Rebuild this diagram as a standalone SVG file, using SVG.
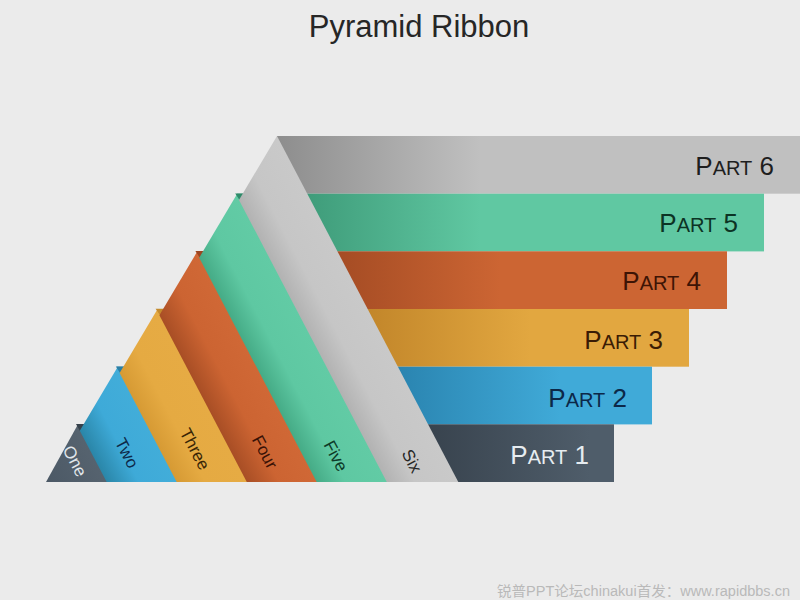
<svg xmlns="http://www.w3.org/2000/svg" width="800" height="600" viewBox="0 0 800 600">
<style>
.title{font-family:"Liberation Sans","Open Sans",sans-serif;font-size:31px;fill:#262626}
.part{font-family:"Liberation Sans","Open Sans",sans-serif;text-anchor:end}
.big{font-size:26px}
.small{font-size:20px}
.lbl{font-family:"Liberation Sans","Open Sans",sans-serif;font-size:17px;text-anchor:middle}
.wm{font-family:"Liberation Sans","Noto Sans CJK SC",sans-serif;font-size:14px;fill:#b9b9b9}
</style>
<defs>
<linearGradient id="b6" gradientUnits="userSpaceOnUse" x1="280" y1="0" x2="480" y2="0"><stop offset="0" stop-color="#8e8e8e"/><stop offset="1" stop-color="#c0c0c0"/></linearGradient>
<linearGradient id="b5" gradientUnits="userSpaceOnUse" x1="307" y1="0" x2="480" y2="0"><stop offset="0" stop-color="#3f9c7a"/><stop offset="1" stop-color="#60c8a2"/></linearGradient>
<linearGradient id="b4" gradientUnits="userSpaceOnUse" x1="337" y1="0" x2="500" y2="0"><stop offset="0" stop-color="#a54c24"/><stop offset="1" stop-color="#cc6533"/></linearGradient>
<linearGradient id="b3" gradientUnits="userSpaceOnUse" x1="367" y1="0" x2="530" y2="0"><stop offset="0" stop-color="#c2862a"/><stop offset="1" stop-color="#e2a740"/></linearGradient>
<linearGradient id="b2" gradientUnits="userSpaceOnUse" x1="397" y1="0" x2="560" y2="0"><stop offset="0" stop-color="#2a84b0"/><stop offset="1" stop-color="#40aad8"/></linearGradient>
<linearGradient id="b1" gradientUnits="userSpaceOnUse" x1="428" y1="0" x2="590" y2="0"><stop offset="0" stop-color="#38434e"/><stop offset="1" stop-color="#4f5d6a"/></linearGradient>
<linearGradient id="r6" gradientUnits="userSpaceOnUse" x1="239" y1="200" x2="295.1" y2="170.6"><stop offset="0" stop-color="#b2b2b2"/><stop offset="0.4" stop-color="#c6c6c6"/><stop offset="1" stop-color="#c9c9c9"/></linearGradient>
<linearGradient id="r5" gradientUnits="userSpaceOnUse" x1="199.2" y1="257.7" x2="255.3" y2="228.3"><stop offset="0" stop-color="#45ab86"/><stop offset="0.4" stop-color="#5ec8a2"/><stop offset="1" stop-color="#62cba5"/></linearGradient>
<linearGradient id="r4" gradientUnits="userSpaceOnUse" x1="159.4" y1="315.3" x2="215.5" y2="285.9"><stop offset="0" stop-color="#a84e25"/><stop offset="0.45" stop-color="#cc6432"/><stop offset="1" stop-color="#d06836"/></linearGradient>
<linearGradient id="r3" gradientUnits="userSpaceOnUse" x1="119.6" y1="373" x2="175.7" y2="343.6"><stop offset="0" stop-color="#d69a34"/><stop offset="0.4" stop-color="#e5aa42"/><stop offset="1" stop-color="#e6ab44"/></linearGradient>
<linearGradient id="r2" gradientUnits="userSpaceOnUse" x1="79.8" y1="430.7" x2="135.9" y2="401.3"><stop offset="0" stop-color="#2a86a8"/><stop offset="0.45" stop-color="#3eaad8"/><stop offset="1" stop-color="#42add9"/></linearGradient>
<linearGradient id="r1" gradientUnits="userSpaceOnUse" x1="40" y1="488.3" x2="96.1" y2="458.9"><stop offset="0" stop-color="#4a5764"/><stop offset="1" stop-color="#56636f"/></linearGradient>
</defs>
<rect width="800" height="600" fill="#ebebeb"/>
<text class="title" x="419" y="37" text-anchor="middle">Pyramid Ribbon</text>

<g id="bar-6"><rect x="277" y="136" width="523" height="57.7" fill="url(#b6)"/>
<text class="part" x="774" y="175" fill="#1e1e1e"><tspan class="big">P</tspan><tspan class="small">ART</tspan><tspan class="big"> 6</tspan></text></g>
<g id="bar-5"><rect x="237" y="193.7" width="527" height="57.7" fill="url(#b5)"/>
<text class="part" x="738" y="232" fill="#0c3324"><tspan class="big">P</tspan><tspan class="small">ART</tspan><tspan class="big"> 5</tspan></text></g>
<g id="bar-4"><rect x="197" y="251.3" width="530" height="57.7" fill="url(#b4)"/>
<text class="part" x="701" y="290" fill="#3d1405"><tspan class="big">P</tspan><tspan class="small">ART</tspan><tspan class="big"> 4</tspan></text></g>
<g id="bar-3"><rect x="157" y="309" width="532" height="57.7" fill="url(#b3)"/>
<text class="part" x="663" y="349" fill="#3a1c05"><tspan class="big">P</tspan><tspan class="small">ART</tspan><tspan class="big"> 3</tspan></text></g>
<g id="bar-2"><rect x="117" y="366.7" width="535" height="57.7" fill="url(#b2)"/>
<text class="part" x="627" y="407" fill="#0c2848"><tspan class="big">P</tspan><tspan class="small">ART</tspan><tspan class="big"> 2</tspan></text></g>
<g id="bar-1"><rect x="78" y="424.3" width="536" height="57.7" fill="url(#b1)"/>
<text class="part" x="589" y="464" fill="#e6ecf0"><tspan class="big">P</tspan><tspan class="small">ART</tspan><tspan class="big"> 1</tspan></text></g>

<g id="ribbon-1"><polygon points="78,424.3 108.2,482 46,482" fill="url(#r1)"/>
<polygon points="76,424 86,424 80,431" fill="#36414b"/>
<text class="lbl" transform="translate(75,461) rotate(62)" dy="0.35em" fill="#e1e7eb">One</text></g>
<g id="ribbon-2"><polygon points="117.8,366.7 178.2,482 106.7,482 79.8,430.7" fill="url(#r2)"/>
<polygon points="115.8,366.5 126.8,366.5 120.8,374" fill="#2a7fa6"/>
<text class="lbl" transform="translate(127,453) rotate(62)" dy="0.35em" fill="#0e2a4a">Two</text></g>
<g id="ribbon-3"><polygon points="157.6,309 248.3,482 176.7,482 119.6,373" fill="url(#r3)"/>
<polygon points="155.6,308.8 166.6,308.8 160.6,316" fill="#c48a2c"/>
<text class="lbl" transform="translate(195,449) rotate(62)" dy="0.35em" fill="#3a2606">Three</text></g>
<g id="ribbon-4"><polygon points="197.4,251.3 318.3,482 246.8,482 159.4,315.3" fill="url(#r4)"/>
<polygon points="195.4,251.1 206.4,251.1 200.4,258.5" fill="#9c4520"/>
<text class="lbl" transform="translate(265,452) rotate(62)" dy="0.35em" fill="#3a1206">Four</text></g>
<g id="ribbon-5"><polygon points="237.2,193.7 388.3,482 316.7,482 199.2,257.7" fill="url(#r5)"/>
<polygon points="235.2,193.5 246.2,193.5 240.2,201" fill="#2f8a69"/>
<text class="lbl" transform="translate(336,456) rotate(62)" dy="0.35em" fill="#0d3a28">Five</text></g>
<g id="ribbon-6"><polygon points="277,136 458.3,482 386.8,482 239,200" fill="url(#r6)"/>
<text class="lbl" transform="translate(412,461) rotate(62)" dy="0.35em" fill="#262626">Six</text></g>

<g id="connectors"/>

<text class="wm" x="497" y="596" textLength="293" lengthAdjust="spacingAndGlyphs">锐普PPT论坛chinakui首发：www.rapidbbs.cn</text>
</svg>
